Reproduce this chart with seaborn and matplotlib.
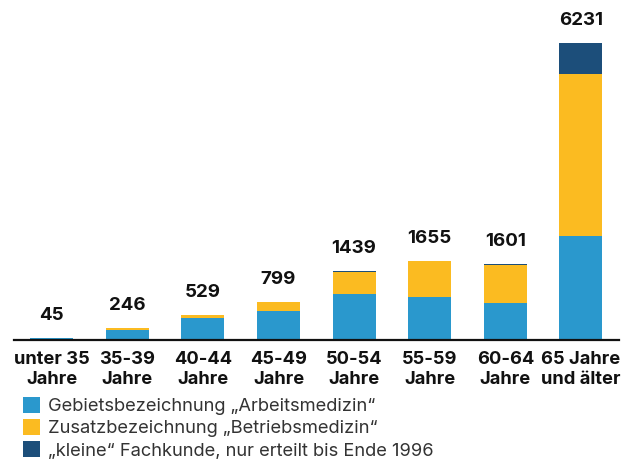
import matplotlib
matplotlib.use("Agg")
import matplotlib.pyplot as plt
import seaborn as sns
import pandas as pd
import numpy as np
from matplotlib.patches import Patch

categories = ["unter 35\nJahre", "35-39\nJahre", "40-44\nJahre", "45-49\nJahre",
              "50-54\nJahre", "55-59\nJahre", "60-64\nJahre", "65 Jahre\nund älter"]
gebiet = [45, 216, 468, 615, 961, 892, 772, 2182]
zusatz = [0, 30, 61, 184, 461, 761, 809, 3399]
fachkunde = [0, 0, 0, 0, 17, 2, 20, 650]
totals = [45, 246, 529, 799, 1439, 1655, 1601, 6231]

series_names = ["Gebietsbezeichnung \u201eArbeitsmedizin\u201c",
                "Zusatzbezeichnung \u201eBetriebsmedizin\u201c",
                "\u201ekleine\u201c Fachkunde, nur erteilt bis Ende 1996"]
colors = ["#2a98cd", "#fbbb21", "#1c4e7a"]

df = pd.DataFrame({
    "cat": categories,
    "gebiet": gebiet,
    "zusatz": zusatz,
    "fachkunde": fachkunde,
})
df["level1"] = df["gebiet"]
df["level2"] = df["gebiet"] + df["zusatz"]
df["level3"] = df["level2"] + df["fachkunde"]

sns.set_theme(style="white")
plt.rcParams["font.family"] = ["Inter", "DejaVu Sans"]

fig = plt.figure(figsize=(6.32, 4.61), dpi=100)
ax = fig.add_axes([0.022, 0.2625, 0.957, 0.727])

for col, c in zip(["level3", "level2", "level1"], [colors[2], colors[1], colors[0]]):
    sns.barplot(data=df, x="cat", y=col, order=categories, color=c,
                width=0.57, saturation=1, ax=ax, edgecolor="none", linewidth=0)

ax.set_xlim(-0.5, 7.5)
ax.set_ylim(0, 7028)
ax.set_xlabel("")
ax.set_ylabel("")
ax.set_yticks([])
for s in ["top", "right", "left"]:
    ax.spines[s].set_visible(False)
ax.spines["bottom"].set_color("#111111")
ax.spines["bottom"].set_linewidth(1.6)
ax.tick_params(axis="x", length=0, pad=8)
for lbl in ax.get_xticklabels():
    lbl.set_fontsize(13.2)
    lbl.set_fontweight("bold")
    lbl.set_color("#111111")
    lbl.set_linespacing(1.25)

for i, t in enumerate(totals):
    ax.annotate(str(t), xy=(i, t), xytext=(0, 10), textcoords="offset points",
                ha="center", va="bottom", fontsize=13.5, fontweight="bold", color="#111111")

handles = [Patch(facecolor=c, edgecolor="none") for c in colors]
fig.legend(handles, series_names, loc="upper left", bbox_to_anchor=(0.036, 0.139),
           frameon=False, fontsize=13.2, handlelength=0.95, handleheight=0.95,
           handletextpad=0.4, labelspacing=0.22, borderpad=0, borderaxespad=0,
           labelcolor="#333333")

fig.savefig("out.png", dpi=100)
